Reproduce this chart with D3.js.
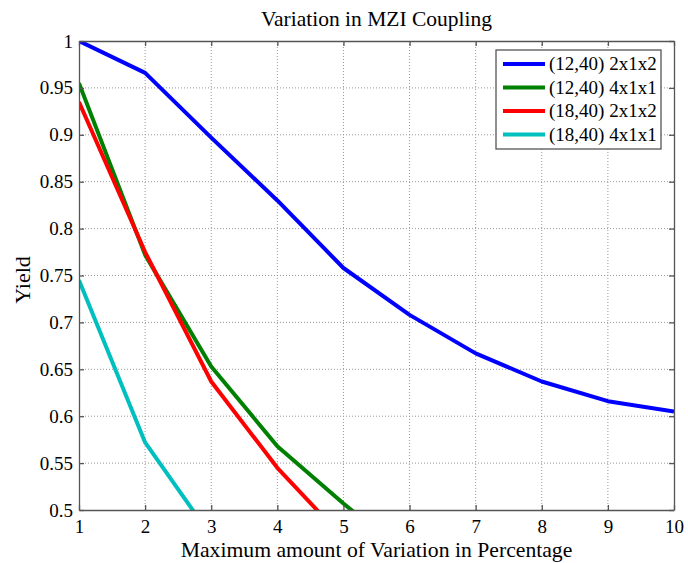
<!DOCTYPE html>
<html>
<head>
<meta charset="utf-8">
<script src="https://cdn.jsdelivr.net/npm/d3@7"></script>
<style>
  body { margin: 0; background: #fff; }
  text { font-family: "Liberation Serif", "Times New Roman", serif; fill: #000; }
</style>
</head>
<body>
<script>
(function (d3) {
  "use strict";

  /***** Data *****/
  var variation = [1, 2, 3, 4, 5, 6, 7, 8, 9, 10];
  var yield1240x2 = [1.0, 0.966, 0.897, 0.830, 0.758, 0.708, 0.667, 0.637, 0.616, 0.605];
  var yield1240x1 = [0.955, 0.772, 0.653, 0.568, 0.507, 0.449];
  var yield1840x2 = [0.935, 0.775, 0.637, 0.545, 0.470];
  var yield1840x1 = [0.745, 0.572, 0.472];
  var seriesNames = ["(12,40) 2x1x2", "(12,40) 4x1x1", "(18,40) 2x1x2", "(18,40) 4x1x1"];
  var seriesColors = ["#0000ff", "#008000", "#ff0000", "#00bfbf"];
  var xTicks = [1, 2, 3, 4, 5, 6, 7, 8, 9, 10];
  var yTicks = [0.5, 0.55, 0.6, 0.65, 0.7, 0.75, 0.8, 0.85, 0.9, 0.95, 1];

  var series = [yield1240x2, yield1240x1, yield1840x2, yield1840x1].map(function (vals, i) {
    return {
      name: seriesNames[i],
      color: seriesColors[i],
      points: vals.map(function (v, j) { return { x: variation[j], y: v }; })
    };
  });

  /***** Configuration *****/
  var margin = { top: 41, right: 14, bottom: 53, left: 79 };
  var width = 688 - margin.left - margin.right;
  var height = 563 - margin.top - margin.bottom;
  var serif = "'Liberation Serif', 'Times New Roman', serif";

  var x = d3.scaleLinear().domain([1, 10]).range([0, width]);
  var y = d3.scaleLinear().domain([0.5, 1]).range([height, 0]);

  var svg = d3.select("body").append("svg")
    .attr("width", 688)
    .attr("height", 563);

  var g = svg.append("g")
    .attr("transform", "translate(" + margin.left + "," + margin.top + ")");

  /***** Grid *****/
  g.append("g").selectAll("line").data(xTicks.slice(1, -1)).enter().append("line")
    .attr("x1", d => x(d)).attr("x2", d => x(d))
    .attr("y1", 0).attr("y2", height)
    .attr("stroke", "#999").attr("stroke-width", 1)
    .attr("stroke-dasharray", "1,2");
  g.append("g").selectAll("line").data(yTicks.slice(1, -1)).enter().append("line")
    .attr("y1", d => y(d)).attr("y2", d => y(d))
    .attr("x1", 0).attr("x2", width)
    .attr("stroke", "#999").attr("stroke-width", 1)
    .attr("stroke-dasharray", "1,2");

  /***** Lines *****/
  g.append("clipPath").attr("id", "plot-clip")
    .append("rect").attr("width", width).attr("height", height);

  var line = d3.line().x(d => x(d.x)).y(d => y(d.y));

  g.append("g").attr("clip-path", "url(#plot-clip)")
    .selectAll("path").data(series).enter().append("path")
    .attr("d", d => line(d.points))
    .attr("fill", "none")
    .attr("stroke", d => d.color)
    .attr("stroke-width", 4)
    .attr("stroke-linejoin", "round");

  /***** Axes (MATLAB style box with inward ticks) *****/
  var fmt = d3.format("");
  var axisColor = "#555";

  var xAxis = d3.axisBottom(x).tickValues(xTicks).tickSizeInner(-5).tickSizeOuter(0).tickFormat(fmt);
  var yAxis = d3.axisLeft(y).tickValues(yTicks).tickSizeInner(-5).tickSizeOuter(0)
    .tickPadding(6).tickFormat(fmt);
  var xTop = d3.axisTop(x).tickValues(xTicks).tickSizeInner(-5).tickSizeOuter(0).tickFormat("");
  var yRight = d3.axisRight(y).tickValues(yTicks).tickSizeInner(-5).tickSizeOuter(0).tickFormat("");

  var gx = g.append("g").attr("transform", "translate(0," + height + ")").call(xAxis);
  var gy = g.append("g").call(yAxis);
  var gxt = g.append("g").call(xTop);
  var gyr = g.append("g").attr("transform", "translate(" + width + ",0)").call(yRight);

  [gx, gy, gxt, gyr].forEach(function (a) {
    a.attr("font-family", serif);
    a.selectAll("path").attr("stroke", axisColor).attr("stroke-width", 1.3);
    a.selectAll("line").attr("stroke", axisColor).attr("stroke-width", 1.3);
    a.selectAll("text").style("font-family", serif)
      .style("font-size", "19px").attr("fill", "#000");
  });
  gx.selectAll("text").attr("y", 23).attr("dy", null);

  /***** Titles *****/
  svg.append("text")
    .attr("x", margin.left + width / 2).attr("y", 26)
    .attr("text-anchor", "middle")
    .style("font-family", serif)
    .style("font-size", "21.5px")
    .text("Variation in MZI Coupling");

  svg.append("text")
    .attr("x", margin.left + width / 2).attr("y", 557)
    .attr("text-anchor", "middle")
    .style("font-family", serif)
    .style("font-size", "21.7px")
    .text("Maximum amount of Variation in Percentage");

  svg.append("text")
    .attr("transform", "translate(30,280) rotate(-90)")
    .attr("text-anchor", "middle")
    .style("font-family", serif)
    .style("font-size", "22px")
    .text("Yield");

  /***** Legend *****/
  var legend = svg.append("g").attr("transform", "translate(496,50)");
  legend.append("rect")
    .attr("width", 165).attr("height", 99)
    .attr("fill", "#fff").attr("stroke", axisColor).attr("stroke-width", 1.3);

  var rows = legend.selectAll("g.row").data(series).enter().append("g")
    .attr("class", "row")
    .attr("transform", (d, i) => "translate(0," + (14 + i * 23.5) + ")");
  rows.append("line")
    .attr("x1", 7).attr("x2", 49).attr("y1", 0).attr("y2", 0)
    .attr("stroke", d => d.color).attr("stroke-width", 4);
  rows.append("text")
    .attr("x", 53).attr("y", 0).attr("dy", "0.33em")
    .style("font-family", serif)
    .style("font-size", "19px")
    .text(d => d.name);

})(d3);
</script>
</body>
</html>
